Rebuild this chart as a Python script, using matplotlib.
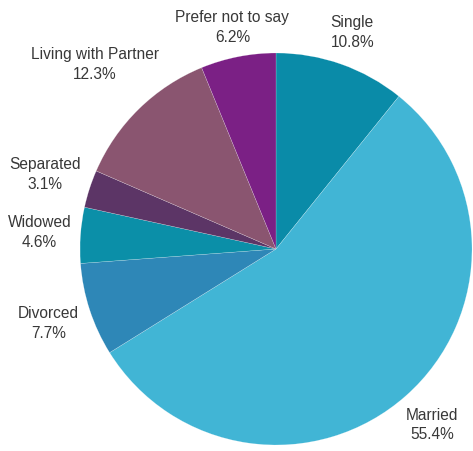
import numpy as np
import matplotlib
matplotlib.use("Agg")
import matplotlib.pyplot as plt

# estado civil de los encuestados
categorias = ["Single", "Married", "Divorced", "Widowed", "Separated",
              "Living with Partner", "Prefer not to say"]
porcentajes = [10.8, 55.4, 7.7, 4.6, 3.1, 12.3, 6.2]
colores = ["#0a8ba8", "#41b5d5", "#2e87b7", "#0b8fa8", "#5c3566",
           "#8a5570", "#7b2085"]
# distancia de cada etiqueta al centro (en radios)
dist_etiqueta = [1.17, 1.20, 1.22, 1.21, 1.24, 1.32, 1.15]

W, H = 473, 451
fig = plt.figure(figsize=(W / 100, H / 100), dpi=100)
ax = fig.add_axes([0, 0, 1, 1])
ax.set_xlim(0, W)
ax.set_ylim(0, H)
ax.set_aspect("equal")
ax.axis("off")

centro = (276, H - 249)
radio = 196

wedges, _ = ax.pie(porcentajes, colors=colores, startangle=90, counterclock=False,
                   center=centro, radius=radio,
                   wedgeprops=dict(edgecolor=(1, 1, 1, 0.5), linewidth=0.25))
ax.set_xlim(0, W)
ax.set_ylim(0, H)

for w, cat, p, d in zip(wedges, categorias, porcentajes, dist_etiqueta):
    ang = np.deg2rad((w.theta1 + w.theta2) / 2)
    x = centro[0] + d * radio * np.cos(ang)
    y = centro[1] + d * radio * np.sin(ang)
    ax.text(x, y, f"{cat}\n{p}%", ha="center", va="center", fontsize=11.2,
            family="Liberation Sans", color="#383838", linespacing=1.4)

fig.savefig("out.png", dpi=100)
